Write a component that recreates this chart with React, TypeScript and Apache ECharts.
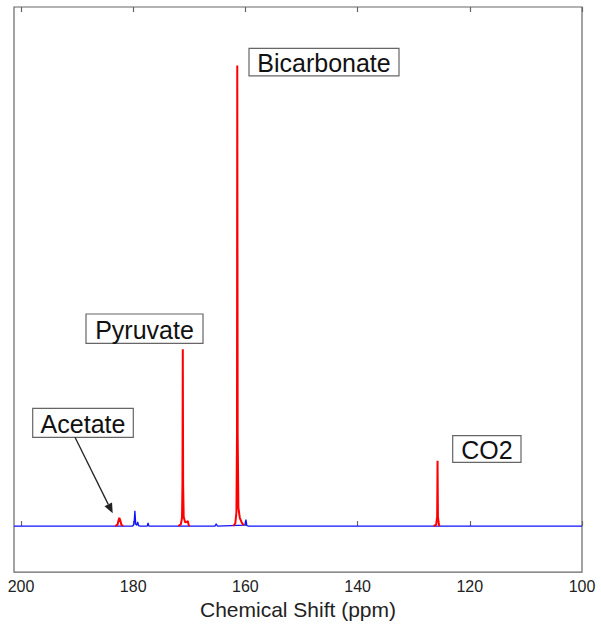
import React, { useEffect, useRef } from "react";
import * as echarts from "echarts";

// Tick labels of the chemical-shift axis (ppm)
const ppmTicks = [100, 120, 140, 160, 180, 200];

// Blue: full spectrum baseline with small peaks [ppm, intensity]
const blueSpectrum: [number, number][] = [
  [201.25, 0], [180.1, 0], [179.85, 0.4], [179.7, 3.3], [179.55, 0.4], [179.35, 0.2],
  [179.2, 0.9], [179.05, 0.1], [178.8, 0], [177.5, 0], [177.35, 0.7], [177.2, 0],
  [165.4, 0], [165.2, 0.5], [165.0, 0], [160.1, 0.2], [159.9, 1.4], [159.75, 0.1],
  [159.4, 0], [100, 0],
];

// Red: assigned metabolite peaks
const acetatePeak: [number, number][] = [
  [183.2, 0], [182.8, 0.3], [182.6, 1.3], [182.47, 1.8], [182.3, 1.2], [182.1, 0.3], [181.8, 0],
];
const pyruvatePeak: [number, number][] = [
  [171.95, 0], [171.5, 0.4], [171.3, 1.8], [171.22, 9], [171.16, 38.4], [171.1, 9],
  [171.0, 2], [170.75, 0.8], [170.4, 0.9], [170.27, 1.1], [170.15, 0.4], [170.0, 0],
];
const bicarbonatePeak: [number, number][] = [
  [162.14, 0], [161.8, 0.6], [161.6, 3], [161.5, 20], [161.45, 100], [161.38, 20],
  [161.25, 4], [161.0, 1.8], [160.7, 0.9], [160.36, 0.2],
];
const co2Peak: [number, number][] = [
  [126.45, 0], [126.0, 0.3], [125.82, 2], [125.75, 14.2], [125.68, 2], [125.5, 0.3], [125.4, 0],
];

const FONT = "'Liberation Sans', Arial, Helvetica, sans-serif";

function labelBox(text: string, x: number, y: number, w: number, h: number) {
  return {
    type: "group",
    children: [
      {
        type: "rect",
        shape: { x, y, width: w, height: h },
        style: { fill: "#fff", stroke: "#666", lineWidth: 1.2 },
        z: 10,
      },
      {
        type: "text",
        x: x + w / 2,
        y: y + h / 2 + 1,
        style: {
          text,
          fontSize: 25,
          fontFamily: FONT,
          fill: "#111",
          align: "center",
          verticalAlign: "middle",
        },
        z: 11,
      },
    ],
  };
}

export default function App() {
  const ref = useRef<HTMLDivElement>(null);

  useEffect(() => {
    if (!ref.current) return;
    const chart = echarts.init(ref.current, undefined, { renderer: "svg" });

    const redSeries = (data: [number, number][]) => ({
      type: "line",
      data,
      showSymbol: false,
      symbol: "none",
      lineStyle: { color: "#ff0000", width: 2 },
      z: 3,
    });

    // arrow geometry
    const tail = [75, 437.3];
    const tip = [112.7, 513.3];
    const dx = tip[0] - tail[0];
    const dy = tip[1] - tail[1];
    const len = Math.sqrt(dx * dx + dy * dy);
    const ux = dx / len;
    const uy = dy / len;
    const hl = 10;
    const hw = 4.2;
    const bx = tip[0] - ux * hl;
    const by = tip[1] - uy * hl;

    chart.setOption({
      animation: false,
      grid: {
        left: 14,
        right: 19,
        top: 7,
        bottom: 50,
        show: true,
        borderColor: "#666",
        borderWidth: 1.2,
        backgroundColor: "#fff",
      },
      xAxis: [
        {
          type: "value",
          inverse: true,
          min: 100,
          max: 201.25,
          position: "bottom",
          splitLine: { show: false },
          axisLine: { show: false },
          axisTick: {
            show: true,
            inside: true,
            length: 5,
            customValues: ppmTicks,
            lineStyle: { color: "#666", width: 1.2 },
          },
          axisLabel: {
            customValues: ppmTicks,
            fontSize: 16,
            fontFamily: FONT,
            color: "#222",
            margin: 6,
          },
          name: "Chemical Shift (ppm)",
          nameLocation: "middle",
          nameGap: 17,
          nameTextStyle: { fontSize: 21, fontFamily: FONT, color: "#222" },
        },
        {
          type: "value",
          inverse: true,
          min: 100,
          max: 201.25,
          position: "top",
          splitLine: { show: false },
          axisLine: { show: false },
          axisTick: {
            show: true,
            inside: true,
            length: 5,
            customValues: ppmTicks,
            lineStyle: { color: "#666", width: 1.2 },
          },
          axisLabel: { show: false },
        },
      ],
      yAxis: {
        type: "value",
        min: -10,
        max: 112.7,
        show: false,
        splitLine: { show: false },
      },
      series: [
        {
          type: "line",
          data: blueSpectrum,
          showSymbol: false,
          symbol: "none",
          lineStyle: { color: "#1010ff", width: 1.3 },
          z: 2,
        },
        redSeries(acetatePeak),
        redSeries(pyruvatePeak),
        redSeries(bicarbonatePeak),
        redSeries(co2Peak),
      ],
      graphic: [
        labelBox("Bicarbonate", 249, 48.3, 150, 27.6),
        labelBox("Pyruvate", 86, 314, 117, 29.3),
        labelBox("Acetate", 32.7, 408.3, 100.6, 29),
        labelBox("CO2", 452.7, 435.7, 68.3, 26.6),
        {
          type: "line",
          shape: { x1: tail[0], y1: tail[1], x2: bx, y2: by },
          style: { stroke: "#222", lineWidth: 1.3 },
          z: 12,
        },
        {
          type: "polygon",
          shape: {
            points: [
              [tip[0], tip[1]],
              [bx - uy * hw, by + ux * hw],
              [bx + uy * hw, by - ux * hw],
            ],
          },
          style: { fill: "#222" },
          z: 12,
        },
      ],
    });

    return () => chart.dispose();
  }, []);

  return (
    <div
      ref={ref}
      style={{ position: "absolute", left: 0, top: 0, width: 601, height: 625, background: "#fff" }}
    />
  );
}
